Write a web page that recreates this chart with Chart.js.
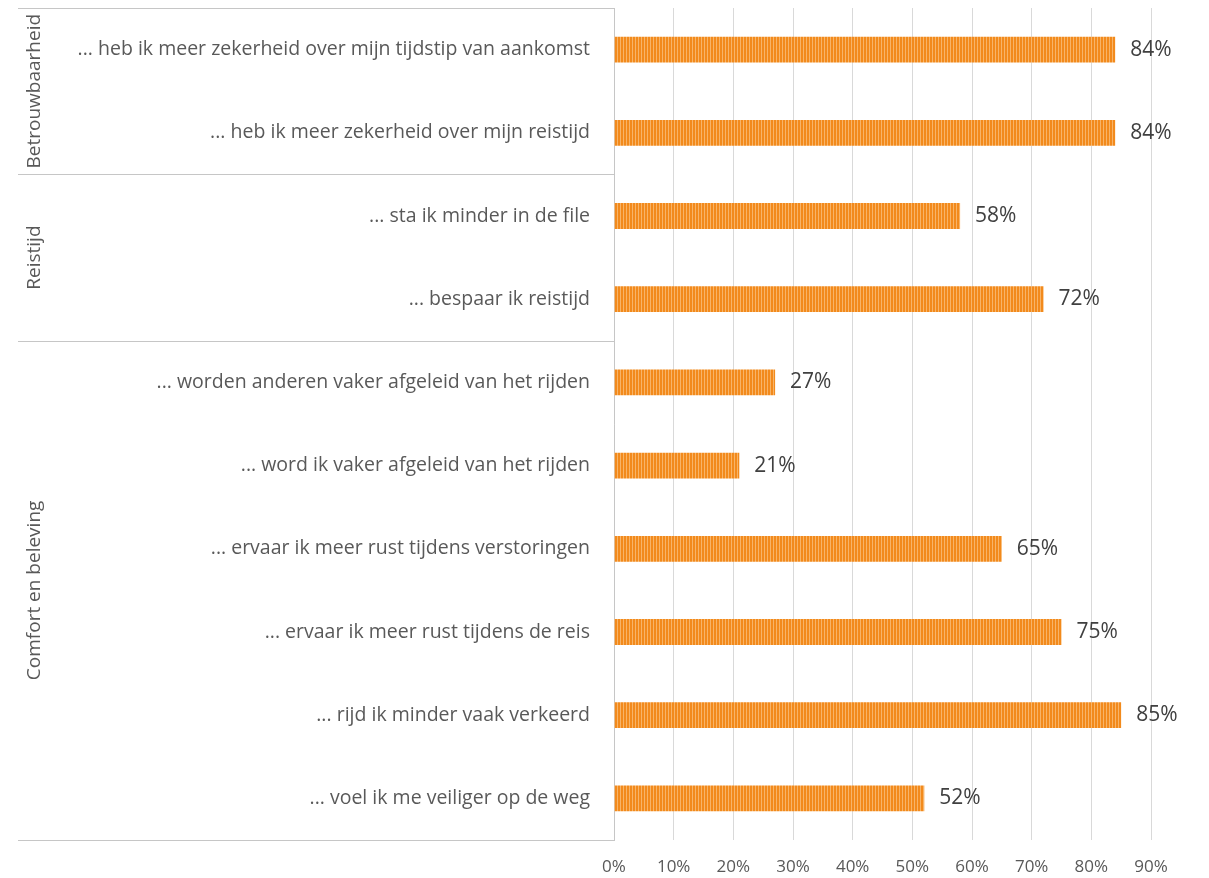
<!DOCTYPE html>
<html>
<head>
<meta charset="utf-8">
<script src="https://cdn.jsdelivr.net/npm/chart.js@4.4.0/dist/chart.umd.min.js"></script>
<style>
  html, body { margin: 0; padding: 0; background: #fff; }
  #wrap { width: 1209px; height: 878px; }
</style>
</head>
<body>
<div id="wrap"><canvas id="c" width="1209" height="878"></canvas></div>
<script>
var categories = [
  '... heb ik meer zekerheid over mijn tijdstip van aankomst',
  '... heb ik meer zekerheid over mijn reistijd',
  '... sta ik minder in de file',
  '... bespaar ik reistijd',
  '... worden anderen vaker afgeleid van het rijden',
  '... word ik vaker afgeleid van het rijden',
  '... ervaar ik meer rust tijdens verstoringen',
  '... ervaar ik meer rust tijdens de reis',
  '... rijd ik minder vaak verkeerd',
  '... voel ik me veiliger op de weg'
];
var values = [84, 84, 58, 72, 27, 21, 65, 75, 85, 52];
var groups = ['Betrouwbaarheid', 'Reistijd', 'Comfort en beleving'];
var groupSizes = [2, 2, 6];
var xTicks = [0, 10, 20, 30, 40, 50, 60, 70, 80, 90];

var FONT = '"Open Sans", "Noto Sans", sans-serif';

// vertical stripe fill like the original
function stripes(){
  var p = document.createElement('canvas');
  p.width = 3; p.height = 4;
  var g = p.getContext('2d');
  g.fillStyle = '#F28A1C';
  g.fillRect(0, 0, 3, 4);
  g.fillStyle = '#F8B468';
  g.fillRect(2, 0, 1, 4);
  return g.createPattern(p, 'repeat');
}
var ctx = document.getElementById('c').getContext('2d');
var fill = stripes();

// group labels + separator lines on the left
var groupPlugin = {
  id: 'groups',
  afterDraw: function(chart){
    var c = chart.ctx, ca = chart.chartArea, ys = chart.scales.y;
    var half = (ys.getPixelForValue(1) - ys.getPixelForValue(0)) / 2;
    c.save();
    c.strokeStyle = '#c6c6c6';
    c.lineWidth = 1;
    var start = 0;
    var edges = [ca.top];
    for (var g = 0; g < groups.length; g++){
      var end = start + groupSizes[g] - 1;
      var top = ys.getPixelForValue(start) - half;
      var bot = ys.getPixelForValue(end) + half;
      edges.push(bot);
      c.save();
      c.translate(35, (top + bot) / 2);
      c.rotate(-Math.PI / 2);
      c.fillStyle = '#595959';
      c.font = '19px ' + FONT;
      c.textAlign = 'center';
      c.textBaseline = 'middle';
      c.fillText(groups[g], 0, 0);
      c.restore();
      start = end + 1;
    }
    edges.forEach(function(y){
      y = Math.round(y) + 0.5;
      c.beginPath();
      c.moveTo(18, y);
      c.lineTo(ca.left, y);
      c.stroke();
    });
    c.restore();
  }
};

// value labels at bar ends
var valuePlugin = {
  id: 'values',
  afterDatasetsDraw: function(chart){
    var c = chart.ctx;
    var meta = chart.getDatasetMeta(0);
    c.save();
    c.fillStyle = '#404040';
    c.font = '21px ' + FONT;
    c.textBaseline = 'middle';
    meta.data.forEach(function(bar, i){
      c.fillText(values[i] + '%', bar.x + 15, bar.y);
    });
    c.restore();
  }
};

new Chart(ctx, {
  type: 'bar',
  data: {
    labels: categories,
    datasets: [{
      data: values,
      backgroundColor: fill,
      borderWidth: 0,
      barPercentage: 0.31,
      categoryPercentage: 1
    }]
  },
  options: {
    indexAxis: 'y',
    responsive: false,
    animation: false,
    devicePixelRatio: 1,
    layout: { padding: { top: 8, right: 58, left: 0, bottom: 0 } },
    plugins: { legend: { display: false }, tooltip: { enabled: false } },
    scales: {
      x: {
        min: 0, max: 90,
        afterBuildTicks: function(s){ s.ticks = xTicks.map(function(v){ return { value: v }; }); },
        afterFit: function(s){ s.height = 38; s.paddingLeft = 0; s.paddingRight = 0; },
        ticks: {
          color: '#595959',
          font: { family: FONT, size: 17 },
          padding: 17,
          maxRotation: 0,
          callback: function(v){ return v + '%'; }
        },
        grid: { color: '#d9d9d9', drawTicks: false },
        border: { display: false }
      },
      y: {
        afterFit: function(s){ s.width = 614; s.paddingTop = 0; s.paddingBottom = 0; },
        ticks: {
          color: '#595959',
          font: { family: FONT, size: 19.5 },
          padding: 24
        },
        grid: { display: false, drawTicks: false },
        border: { display: true, color: '#c6c6c6' }
      }
    }
  },
  plugins: [groupPlugin, valuePlugin]
});
</script>
</body>
</html>
